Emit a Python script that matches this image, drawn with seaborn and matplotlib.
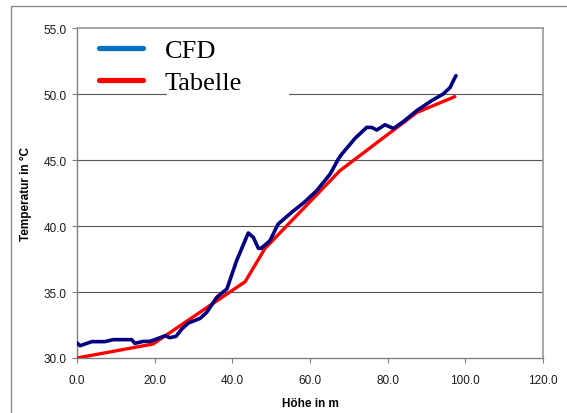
import numpy as np
import pandas as pd
import matplotlib
matplotlib.use('Agg')
import matplotlib.pyplot as plt
import seaborn as sns
from matplotlib.lines import Line2D
from matplotlib.patches import Rectangle

# Daten
cfd_hoehe = [0.0, 0.8, 3.8, 7.2, 9.3, 14.1, 14.9, 17.1, 18.8, 20.5, 22.7, 23.9,
             25.5, 27.0, 28.7, 31.7, 33.4, 36.0, 38.6, 41.1, 44.1, 45.4, 46.7,
             47.4, 49.7, 51.8, 55.3, 58.3, 61.7, 65.2, 67.3, 68.2, 71.6, 74.6,
             75.9, 77.2, 79.3, 81.5, 84.0, 87.5, 91.3, 94.3, 96.1, 96.9, 97.6]
cfd_temp = [31.14, 30.93, 31.24, 31.24, 31.39, 31.39, 31.11, 31.26, 31.26, 31.44,
            31.69, 31.54, 31.64, 32.2, 32.65, 33.0, 33.46, 34.6, 35.23, 37.37,
            39.47, 39.14, 38.31, 38.31, 38.89, 40.15, 41.04, 41.74, 42.67, 43.94,
            45.08, 45.45, 46.64, 47.47, 47.47, 47.27, 47.67, 47.39, 47.9, 48.74,
            49.49, 50.0, 50.5, 51.0, 51.39]

tab_hoehe = [0.0, 19.6, 43.3, 48.4, 67.7, 87.5, 97.3]
tab_temp = [30.0, 31.06, 35.78, 38.3, 44.19, 48.6, 49.8]

df_cfd = pd.DataFrame({'hoehe': cfd_hoehe, 'temp': cfd_temp})
df_tab = pd.DataFrame({'hoehe': tab_hoehe, 'temp': tab_temp})

sns.set_theme(style='white')
plt.rcParams['font.family'] = ['Liberation Sans', 'DejaVu Sans']
plt.rcParams['text.color'] = 'black'

fig = plt.figure(figsize=(5.67, 4.14), dpi=100)
ax = fig.add_axes([77 / 567, 1 - 359 / 414, 466 / 567, 330 / 414])

# äußerer Rahmen
fig.patches.append(Rectangle((11 / 567, -0.1), 1.2, 1 - 7 / 414 + 0.1,
                             transform=fig.transFigure, fill=False,
                             edgecolor='#8c8c8c', lw=1.0))

sns.lineplot(data=df_tab, x='hoehe', y='temp', ax=ax, color='#ff0000', lw=2.4,
             sort=False, zorder=3)
sns.lineplot(data=df_cfd, x='hoehe', y='temp', ax=ax, color='#000080', lw=2.6,
             sort=False, zorder=4)

ax.set_xlim(0, 120)
ax.set_ylim(30, 55)
ax.set_xticks(np.arange(0, 121, 20))
ax.set_yticks(np.arange(30, 56, 5))
ax.set_xticklabels([f'{v:.1f}' for v in np.arange(0, 121, 20)])
ax.set_yticklabels([f'{v:.1f}' for v in np.arange(30, 56, 5)])

for y in [35, 40, 45, 50]:
    ax.axhline(y, color='#555555', lw=0.8, zorder=1)

# weißer Hintergrund der Legende verdeckt die Gitterlinie
ax.add_patch(Rectangle((0.193, 0.795), 0.262, 0.205, transform=ax.transAxes,
                       facecolor='white', edgecolor='none', zorder=2))

for side in ['top', 'right']:
    ax.spines[side].set_color('#a0a0a0')
    ax.spines[side].set_linewidth(1.3)
for side in ['left', 'bottom']:
    ax.spines[side].set_color('#808080')
    ax.spines[side].set_linewidth(1.0)

ax.tick_params(axis='both', direction='out', length=3.5, width=0.8,
               color='#808080', labelsize=8.5, labelcolor='#1a1a1a')
ax.tick_params(axis='x', pad=8)
ax.tick_params(axis='y', pad=4)
ax.xaxis.set_ticks_position('bottom')
ax.yaxis.set_ticks_position('left')

ax.set_xlabel('Höhe in m', fontsize=8.5, fontweight='bold', labelpad=8,
              color='black')
ax.set_ylabel('Temperatur in °C', fontsize=8.5, fontweight='bold', labelpad=8,
              color='black')

handles = [Line2D([], [], color='#0070c0', lw=3.8),
           Line2D([], [], color='#ff0000', lw=3.8)]
leg = ax.legend(handles, ['CFD', 'Tabelle'], loc='upper left',
                bbox_to_anchor=(22 / 466, 1 - 11 / 330), frameon=False,
                prop={'family': 'Liberation Serif', 'size': 19},
                handlelength=1.65, handletextpad=0.85, labelspacing=0.32,
                borderpad=0, borderaxespad=0, labelcolor='black')
leg.set_zorder(5)

fig.savefig('out.png', dpi=100)
